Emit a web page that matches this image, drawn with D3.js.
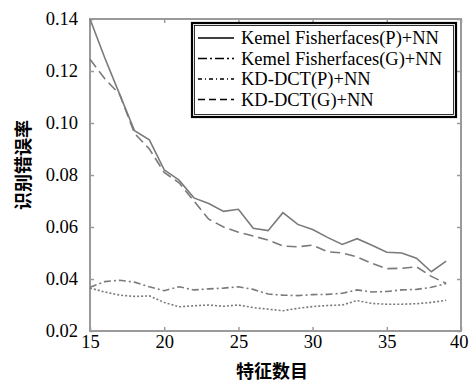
<!DOCTYPE html>
<html><head><meta charset="utf-8">
<script src="https://cdn.jsdelivr.net/npm/d3@7"></script>
<style>body{margin:0;background:#fff}
.serif{font-family:"Liberation Serif","Times New Roman","DejaVu Serif",serif !important}</style>
</head><body><svg id="c" width="469" height="382"></svg>
<script>
const features = d3.range(15, 40);
const kfP = [0.140,0.125,0.111,0.097,0.0935,0.082,0.078,0.0712,0.069,0.066,0.0668,0.0595,0.0586,0.0655,0.061,0.059,0.056,0.0533,0.0555,0.053,0.0503,0.050,0.048,0.0428,0.0469];
const kfG = [0.0368,0.039,0.0395,0.0388,0.037,0.0355,0.037,0.0358,0.0362,0.0365,0.037,0.036,0.0342,0.0338,0.0336,0.034,0.0341,0.0345,0.0358,0.035,0.0352,0.0358,0.036,0.0368,0.0383];
const kdP = [0.0365,0.035,0.0338,0.0333,0.0335,0.031,0.0293,0.0297,0.030,0.0295,0.030,0.029,0.0284,0.0278,0.0287,0.0294,0.0298,0.030,0.0317,0.0306,0.0303,0.0303,0.0305,0.031,0.0318];
const kdG = [0.1245,0.117,0.111,0.096,0.090,0.081,0.077,0.070,0.063,0.060,0.058,0.0565,0.055,0.0527,0.0524,0.053,0.0505,0.050,0.0485,0.046,0.044,0.0441,0.0447,0.041,0.0383];
const seriesNames = ["Kemel Fisherfaces(P)+NN","Kemel Fisherfaces(G)+NN","KD-DCT(P)+NN","KD-DCT(G)+NN"];
const xTicks = [15,20,25,30,35,40];
const yTicks = [0.02,0.04,0.06,0.08,0.10,0.12,0.14];
const xTitle = "特征数目", yTitle = "识别错误率";

const series = [
  {name: seriesNames[0], values: kfP, plotDash: null, legDash: null},
  {name: seriesNames[1], values: kfG, plotDash: "7,3,2,3", legDash: "9,3,2,3"},
  {name: seriesNames[2], values: kdP, plotDash: "2,2", legDash: "4,3,1,3"},
  {name: seriesNames[3], values: kdG, plotDash: "10,5", legDash: "7,4"}
];

const svg = d3.select("#c");
const m = {l: 90, r: 461, t: 19, b: 331};
const x = d3.scaleLinear().domain([15, 40]).range([m.l, m.r]);
const y = d3.scaleLinear().domain([0.02, 0.14]).range([m.b, m.t]);
const grey = "#9a9a9a";

svg.append("rect").attr("x", m.l).attr("y", m.t).attr("width", m.r - m.l).attr("height", m.b - m.t)
  .attr("fill", "none").attr("stroke", grey).attr("stroke-width", 2);

const ax = d3.axisBottom(x).tickValues(xTicks).tickSize(-4).tickPadding(4).tickFormat(d3.format("d"));
const gx = svg.append("g").attr("transform", `translate(0,${m.b})`).call(ax);
const axT = d3.axisTop(x).tickValues(xTicks).tickSize(-4).tickFormat("");
const gxt = svg.append("g").attr("transform", `translate(0,${m.t})`).call(axT);
const ay = d3.axisLeft(y).tickValues(yTicks).tickSize(-4).tickPadding(12).tickFormat(d3.format(".2f"));
const gy = svg.append("g").attr("transform", `translate(${m.l},0)`).call(ay);
const ayR = d3.axisRight(y).tickValues(yTicks).tickSize(-4).tickFormat("");
const gyr = svg.append("g").attr("transform", `translate(${m.r},0)`).call(ayR);
[gx, gxt, gy, gyr].forEach(g => {
  g.attr("font-family", null).attr("font-size", null);
  g.select(".domain").remove();
  g.selectAll(".tick line").attr("stroke", grey).attr("stroke-width", 1.5);
  g.selectAll(".tick text").attr("fill", "#000").attr("class", "serif").style("font-size", "18.5px");
});
gx.selectAll(".tick text").filter(d => d === 40).attr("text-anchor", "end").attr("x", 7);

const line = d3.line().x((d, i) => x(features[i])).y(d => y(d));
series.forEach(s => {
  svg.append("path").datum(s.values).attr("d", line)
    .attr("fill", "none").attr("stroke", "#7a7a7a").attr("stroke-width", 1.6)
    .attr("stroke-dasharray", s.plotDash);
});

const lg = svg.append("g");
lg.append("rect").attr("x", 192).attr("y", 23).attr("width", 264).attr("height", 94)
  .attr("fill", "#fff").attr("stroke", "#000").attr("stroke-width", 2.2);
lg.append("rect").attr("x", 194.5).attr("y", 25.5).attr("width", 259).attr("height", 89)
  .attr("fill", "none").attr("stroke", "#000").attr("stroke-width", 0.8);
series.forEach((s, i) => {
  const yy = 38 + i * 20.5;
  lg.append("line").attr("x1", 198).attr("x2", 234).attr("y1", yy).attr("y2", yy)
    .attr("stroke", "#000").attr("stroke-width", 1.5).attr("stroke-dasharray", s.legDash);
  lg.append("text").attr("x", 241).attr("y", yy).attr("dy", "0.35em").attr("class", "serif")
    .style("font-size", "18.5px").text(s.name);
});

svg.append("text").attr("x", 272).attr("y", 378).attr("text-anchor", "middle")
  .style("font-family", "'Noto Sans CJK SC',sans-serif").style("font-size", "18px").style("font-weight", "bold").text(xTitle);
svg.append("text").attr("transform", "translate(24,165) rotate(-90)").attr("text-anchor", "middle")
  .attr("dy", "0.35em")
  .style("font-family", "'Noto Sans CJK SC',sans-serif").style("font-size", "18px").style("font-weight", "bold").text(yTitle);
</script></body></html>
